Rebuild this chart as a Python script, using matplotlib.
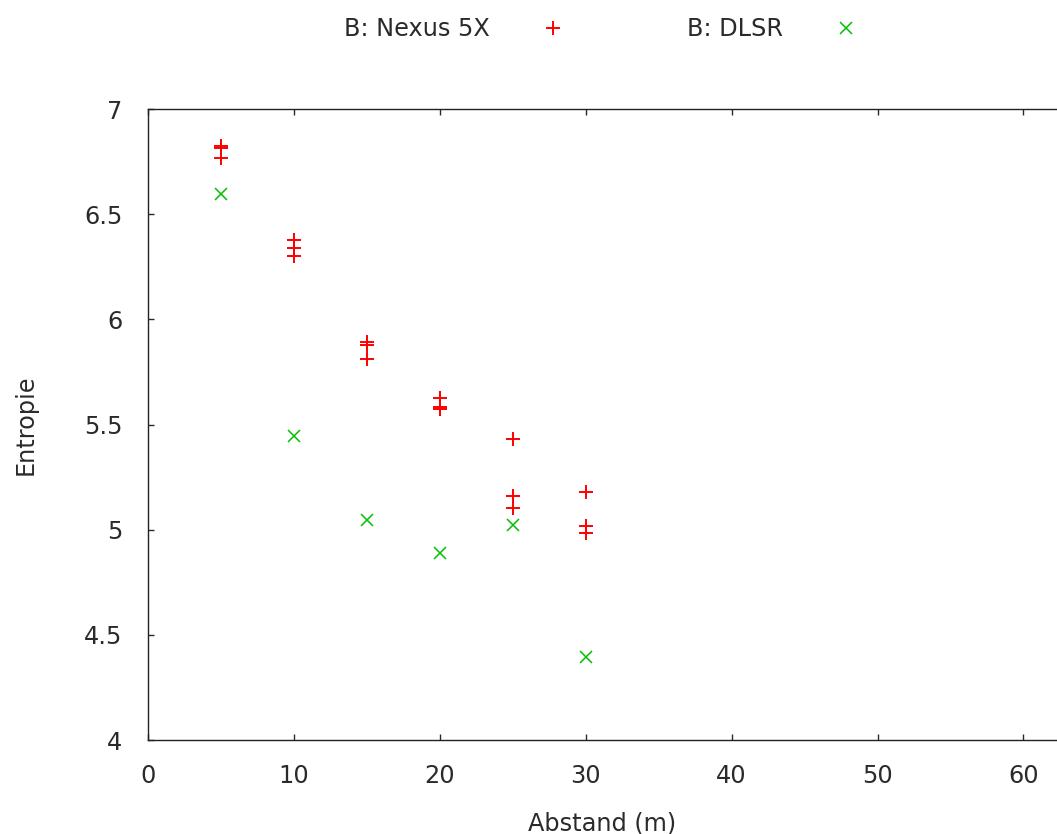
import numpy as np
import matplotlib.pyplot as plt

# Entropie over distance, two cameras
nexus_abstand = [5, 5, 5, 10, 10, 10, 15, 15, 15, 20, 20, 20, 25, 25, 25, 30, 30, 30]
nexus_entropie = [6.825, 6.815, 6.765, 6.375, 6.34, 6.30, 5.893, 5.878, 5.81,
                  5.625, 5.585, 5.572, 5.43, 5.16, 5.105, 5.178, 5.017, 4.984]

dlsr_abstand = [5, 10, 15, 20, 25, 30]
dlsr_entropie = [6.594, 5.445, 5.046, 4.889, 5.022, 4.394]

x_ticks = [0, 10, 20, 30, 40, 50, 60]
y_ticks = [4, 4.5, 5, 5.5, 6, 6.5, 7]

plt.rcParams['font.family'] = ['DejaVu Sans']
fs = 17.3

fig = plt.figure(figsize=(10.57, 8.34), dpi=100)
ax = fig.add_axes([148 / 1057, 1 - 740 / 834, 1 - 148 / 1057, (740 - 109) / 834])

ax.plot(nexus_abstand, nexus_entropie, linestyle='none', marker='+', color='#ff0000',
        markersize=9.5, markeredgewidth=1.4, label='B: Nexus 5X')
ax.plot(dlsr_abstand, dlsr_entropie, linestyle='none', marker='x', color='#00c000',
        markersize=8, markeredgewidth=1.1, label='B: DLSR')

ax.set_xlim(0, 62.3)
ax.set_ylim(4, 7)
ax.set_xticks(x_ticks)
ax.set_yticks(y_ticks)
ax.set_yticklabels(['4', '4.5', '5', '5.5', '6', '6.5', '7'])
ax.spines['right'].set_visible(False)
for s in ['left', 'bottom', 'top']:
    ax.spines[s].set_linewidth(1.0)
    ax.spines[s].set_color('#222222')
ax.tick_params(direction='in', length=4, width=1, top=True, right=False,
               labelsize=fs, colors='#2a2a2a')
ax.tick_params(axis='x', pad=17)
ax.tick_params(axis='y', pad=18.5)

ax.set_xlabel('Abstand (m)', fontsize=fs, labelpad=17, color='#2a2a2a')
ax.set_ylabel('Entropie', fontsize=fs, labelpad=33, color='#2a2a2a')

ax.legend(loc='center', bbox_to_anchor=(607 / 1057, 1 - 29 / 834),
          bbox_transform=fig.transFigure, ncol=2, frameon=False, markerfirst=False,
          fontsize=fs, handlelength=2, handletextpad=1.6, columnspacing=4.6,
          labelcolor='#2a2a2a')

fig.savefig('out.png', dpi=100)
